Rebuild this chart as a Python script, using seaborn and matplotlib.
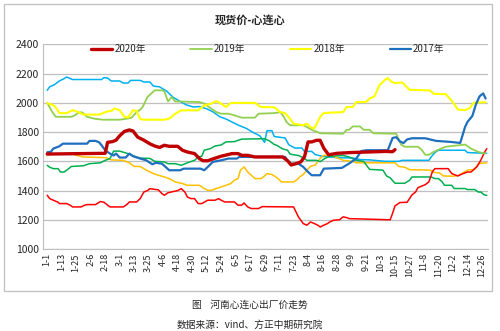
import matplotlib
matplotlib.use("Agg")
import matplotlib.pyplot as plt
import seaborn as sns
import pandas as pd

# ---------------- data (day index from Jan 1, value) ----------------
tick_labels = ["1-1", "1-13", "1-25", "2-6", "2-18", "3-1", "3-13", "3-25", "4-6", "4-18",
               "4-30", "5-12", "5-24", "6-5", "6-17", "6-29", "7-11", "7-23", "8-4", "8-16",
               "8-28", "9-9", "9-21", "10-3", "10-15", "10-27", "11-8", "11-20", "12-2",
               "12-14", "12-26"]
tick_days = [0, 12, 24, 36, 48, 60, 72, 84, 96, 108, 120, 132, 144, 156, 168, 180, 192, 204,
             216, 228, 240, 252, 264, 276, 288, 300, 312, 324, 336, 348, 360]

d2020 = [0, 48, 50, 54, 57, 60, 64, 68, 71, 75, 80, 85, 89, 93, 97, 101, 108, 112, 116, 122,
         126, 129, 133, 138, 144, 153, 158, 161, 166, 172, 195, 199, 202, 206, 210, 213, 216,
         219, 223, 226, 229, 233, 240, 251, 280, 286, 288]
v2020 = [1650, 1655, 1730, 1735, 1745, 1775, 1805, 1815, 1808, 1765, 1745, 1720, 1705, 1695,
         1710, 1703, 1703, 1676, 1664, 1653, 1619, 1604, 1604, 1619, 1635, 1653, 1653, 1641,
         1641, 1630, 1630, 1604, 1575, 1584, 1596, 1630, 1733, 1733, 1744, 1744, 1690, 1645,
         1655, 1660, 1668, 1666, 1680]

d2019 = [0, 1, 4, 7, 20, 23, 26, 29, 33, 39, 46, 60, 66, 70, 74, 77, 79, 83, 86, 89, 95, 97,
         100, 103, 106, 126, 130, 136, 140, 144, 150, 155, 161, 172, 175, 188, 193, 196, 198,
         201, 212, 215, 220, 224, 226, 245, 248, 250, 253, 259, 262, 267, 270, 289, 293, 296,
         307, 310, 313, 316, 320, 324, 330, 346, 351, 357, 363]
v2019 = [2000, 1985, 1940, 1905, 1905, 1915, 1935, 1935, 1905, 1892, 1885, 1885, 1892, 1899,
         1937, 1954, 1972, 2040, 2063, 2086, 2086, 2080, 2010, 2040, 2010, 2006, 1995, 1960,
         1937, 1926, 1926, 1915, 1899, 1899, 1926, 1930, 1937, 1904, 1870, 1847, 1847, 1835,
         1812, 1800, 1792, 1789, 1816, 1816, 1839, 1839, 1816, 1816, 1792, 1789, 1715, 1700,
         1700, 1680, 1645, 1645, 1664, 1680, 1700, 1715, 1687, 1664, 1653]

d2018 = [0, 5, 8, 10, 16, 21, 25, 30, 43, 49, 53, 56, 60, 64, 67, 71, 74, 77, 80, 97, 101,
         106, 111, 125, 130, 136, 140, 144, 148, 152, 172, 177, 188, 193, 197, 201, 204, 212,
         215, 218, 221, 226, 229, 245, 248, 253, 256, 264, 267, 271, 275, 280, 282, 285, 288,
         294, 300, 317, 320, 330, 335, 340, 346, 350, 353, 363]
v2018 = [1998, 1985, 1960, 1930, 1930, 1950, 1940, 1920, 1920, 1940, 1945, 1962, 1950, 1905,
         1900, 1950, 1945, 1890, 1885, 1885, 1892, 1926, 1949, 1949, 1983, 1995, 2013, 1995,
         1972, 2000, 2000, 1972, 1970, 1937, 1930, 1892, 1858, 1847, 1858, 1835, 1824, 1904,
         1931, 1937, 1972, 1972, 2006, 2006, 2030, 2045, 2120, 2160, 2170, 2145, 2135, 2140,
         2090, 2085, 2062, 2060, 2015, 1955, 1950, 1965, 2000, 2005]

d2017 = [0, 3, 5, 10, 13, 33, 35, 40, 43, 45, 48, 50, 52, 55, 57, 60, 65, 68, 71, 77, 82, 87,
         90, 95, 98, 101, 110, 113, 127, 130, 134, 137, 144, 150, 157, 159, 197, 199, 202, 208,
         212, 216, 219, 226, 229, 244, 250, 256, 260, 264, 282, 286, 289, 292, 295, 298, 302,
         313, 322, 334, 342, 344, 346, 348, 352, 355, 358, 361, 363]
v2017 = [1662, 1665, 1687, 1703, 1721, 1721, 1740, 1740, 1730, 1710, 1676, 1664, 1653, 1640,
         1653, 1626, 1626, 1653, 1635, 1619, 1607, 1580, 1590, 1584, 1562, 1539, 1539, 1550,
         1550, 1539, 1570, 1596, 1607, 1619, 1619, 1630, 1630, 1607, 1584, 1584, 1562, 1527,
         1505, 1505, 1550, 1555, 1585, 1620, 1670, 1676, 1676, 1760, 1765, 1737, 1725, 1750,
         1758, 1758, 1740, 1733, 1726, 1780, 1835, 1870, 1910, 1990, 2045, 2065, 2030]

d_lb = [0, 2, 6, 10, 14, 16, 21, 45, 47, 50, 53, 60, 63, 67, 69, 77, 80, 85, 88, 93, 99, 104,
        110, 115, 121, 126, 132, 137, 143, 148, 154, 159, 165, 170, 176, 180, 182, 186, 188,
        197, 200, 205, 211, 213, 219, 222, 228, 240, 253, 259, 267, 280, 291, 294, 316, 319,
        321, 324, 346, 348, 364]
v_lb = [2086, 2110, 2125, 2150, 2166, 2177, 2160, 2160, 2173, 2170, 2150, 2150, 2136, 2136,
        2154, 2154, 2143, 2143, 2115, 2110, 2080, 2040, 2010, 1987, 1972, 1975, 1960, 1940,
        1905, 1890, 1865, 1845, 1825, 1800, 1775, 1730, 1810, 1810, 1770, 1760, 1714, 1691,
        1691, 1668, 1668, 1646, 1634, 1625, 1623, 1612, 1610, 1600, 1600, 1607, 1607, 1641,
        1660, 1676, 1676, 1660, 1655]

d_or = [0, 4, 21, 27, 30, 49, 53, 63, 68, 72, 77, 82, 88, 92, 97, 101, 106, 112, 116, 126,
        130, 133, 136, 140, 144, 148, 152, 155, 158, 160, 163, 166, 169, 172, 177, 180, 182,
        186, 190, 194, 204, 207, 209, 212, 215, 218, 222, 226, 229, 234, 240, 245, 253, 256,
        288, 291, 296, 300, 317, 320, 325, 328, 336, 341, 345, 348, 354, 357, 364]
v_or = [1641, 1650, 1650, 1635, 1630, 1625, 1610, 1607, 1590, 1565, 1565, 1540, 1516, 1505,
        1493, 1482, 1459, 1448, 1436, 1436, 1414, 1402, 1402, 1414, 1425, 1436, 1448, 1471,
        1482, 1539, 1562, 1527, 1505, 1482, 1482, 1500, 1516, 1510, 1490, 1459, 1459, 1475,
        1493, 1510, 1540, 1566, 1575, 1620, 1641, 1641, 1625, 1607, 1600, 1590, 1590, 1565,
        1560, 1543, 1540, 1525, 1520, 1500, 1498, 1505, 1525, 1540, 1545, 1585, 1590]

d_gr = [0, 2, 5, 9, 11, 14, 17, 20, 30, 35, 44, 48, 52, 55, 60, 64, 68, 72, 77, 85, 89, 97,
        100, 106, 111, 116, 122, 125, 128, 130, 135, 139, 144, 148, 155, 161, 180, 184, 188,
        190, 195, 199, 201, 204, 208, 212, 215, 223, 226, 230, 234, 245, 250, 256, 262, 265,
        267, 278, 281, 284, 288, 296, 300, 302, 318, 321, 324, 327, 329, 335, 337, 346, 348,
        354, 357, 359, 362, 364]
v_gr = [1573, 1560, 1550, 1550, 1527, 1527, 1545, 1565, 1570, 1584, 1590, 1607, 1619, 1670,
        1670, 1660, 1650, 1635, 1622, 1620, 1600, 1596, 1584, 1584, 1573, 1590, 1607, 1630,
        1635, 1676, 1687, 1705, 1712, 1733, 1735, 1752, 1755, 1740, 1715, 1710, 1685, 1676,
        1650, 1645, 1640, 1625, 1607, 1607, 1598, 1620, 1635, 1640, 1630, 1607, 1600, 1566,
        1545, 1540, 1500, 1487, 1450, 1450, 1470, 1493, 1493, 1482, 1482, 1460, 1436, 1436,
        1414, 1414, 1407, 1407, 1390, 1390, 1370, 1367]

d_rd = [0, 2, 5, 9, 10, 16, 19, 21, 28, 31, 33, 40, 44, 47, 50, 52, 63, 66, 68, 74, 77, 80,
        83, 85, 92, 95, 97, 100, 108, 111, 114, 116, 119, 122, 124, 125, 128, 131, 133, 139,
        142, 144, 147, 155, 158, 161, 163, 166, 169, 175, 178, 204, 206, 208, 212, 215, 218,
        221, 224, 226, 229, 232, 234, 237, 242, 245, 248, 250, 284, 286, 288, 292, 298, 300,
        302, 305, 307, 313, 316, 319, 321, 332, 335, 340, 344, 348, 351, 354, 356, 359, 362,
        364]
v_rd = [1368, 1345, 1334, 1320, 1311, 1311, 1300, 1288, 1288, 1300, 1304, 1304, 1325, 1320,
        1300, 1288, 1288, 1305, 1322, 1322, 1345, 1390, 1400, 1413, 1405, 1379, 1368, 1385,
        1400, 1413, 1390, 1356, 1345, 1345, 1322, 1311, 1311, 1325, 1334, 1334, 1345, 1334,
        1322, 1322, 1300, 1300, 1315, 1288, 1277, 1277, 1290, 1288, 1254, 1220, 1174, 1163,
        1185, 1175, 1163, 1151, 1163, 1174, 1185, 1197, 1200, 1220, 1215, 1208, 1200, 1245,
        1295, 1318, 1320, 1345, 1370, 1390, 1420, 1440, 1459, 1530, 1550, 1550, 1516, 1500,
        1515, 1527, 1527, 1550, 1565, 1607, 1660, 1687]

legend_labels = ["2020年", "2019年", "2018年", "2017年"]

# ---------------- styling ----------------
sns.set_style("white")
plt.rcParams["font.family"] = ["Noto Sans CJK SC", "DejaVu Sans"]

fig = plt.figure(figsize=(5.0, 3.31), dpi=100)
ax = fig.add_axes([0.086, 0.2477, 0.89, 0.618])

# outer chart border
fig.patches.append(plt.Rectangle((0.008, 0.121), 0.976, 0.866, transform=fig.transFigure,
                                 fill=False, edgecolor="#BFBFBF", linewidth=0.9))

series = [
    (d_lb, v_lb, "#00B0F0", 1.1, None),
    (d_or, v_or, "#FFC000", 1.1, None),
    (d_gr, v_gr, "#00B050", 1.1, None),
    (d_rd, v_rd, "#FF0000", 1.1, None),
    (d2019, v2019, "#92D050", 1.3, legend_labels[1]),
    (d2018, v2018, "#FFFF00", 1.5, legend_labels[2]),
    (d2017, v2017, "#1F6FBF", 1.6, legend_labels[3]),
    (d2020, v2020, "#C00000", 2.4, legend_labels[0]),
]
for dd, vv, col, lw, lab in series:
    df = pd.DataFrame({"day": dd, "value": vv})
    sns.lineplot(data=df, x="day", y="value", ax=ax, color=col, linewidth=lw,
                 label=lab if lab else "_nolegend_", estimator=None, sort=False)
h, l = ax.get_legend_handles_labels()
hmap = dict(zip(l, h))
ax.legend([hmap[k] for k in legend_labels], legend_labels, ncol=4, loc="upper center",
          bbox_to_anchor=(0.505, 1.045), frameon=False, fontsize=7, handlelength=2.2,
          columnspacing=4.6, handletextpad=0.2)

ax.set_xlim(-3.5, 365)
ax.set_ylim(1000, 2400)
ax.set_yticks(range(1000, 2401, 200))
ax.set_yticklabels([str(v) for v in range(1000, 2401, 200)], fontsize=7.5)
ax.set_xticks(tick_days)
ax.set_xticklabels(tick_labels, rotation=90, fontsize=6.5)
ax.tick_params(axis="both", length=0, pad=3)
ax.yaxis.grid(True, color="#BFBFBF", linewidth=0.9)
ax.set_axisbelow(True)
for s in ["top", "right"]:
    ax.spines[s].set_visible(False)
ax.spines["left"].set_color("#BFBFBF")
ax.spines["bottom"].set_color("#BFBFBF")
ax.set_xlabel("")
ax.set_ylabel("")

fig.text(0.5, 0.94, "现货价-心连心", ha="center", va="center", fontsize=8, fontweight="bold")
fig.text(0.5, 0.078, "图    河南心连心出厂价走势", ha="center", va="center", fontsize=7)
fig.text(0.5, 0.018, "数据来源：vind、方正中期研究院", ha="center", va="center", fontsize=7)

fig.savefig("out.png", dpi=100)
